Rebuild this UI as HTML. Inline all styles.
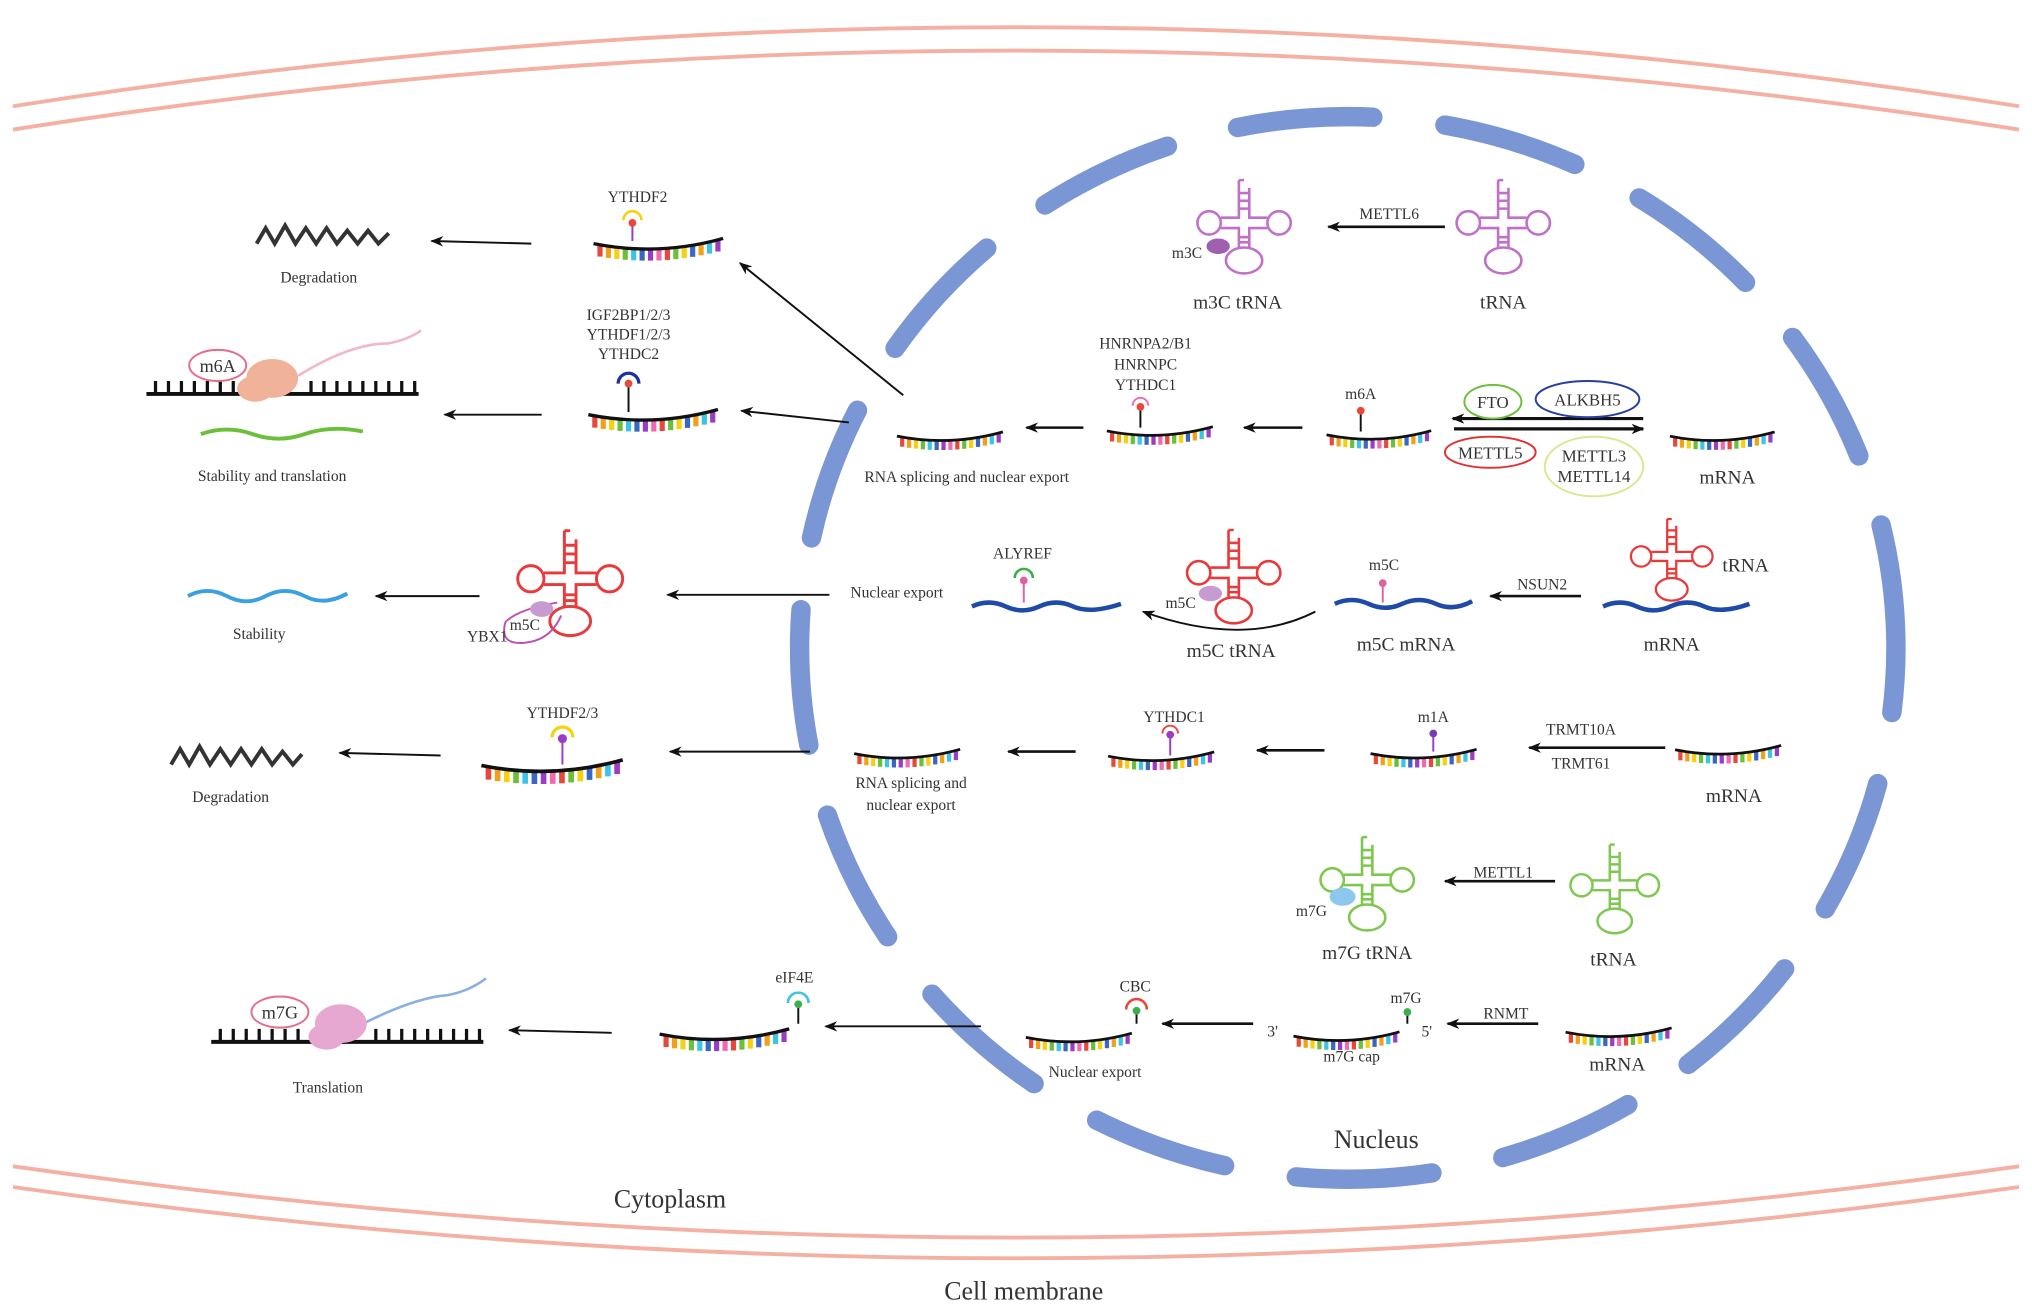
<!DOCTYPE html>
<html><head><meta charset="utf-8"><style>
html,body{margin:0;padding:0;background:#fff;}
svg{display:block;}
text{font-family:"Liberation Serif",serif;fill:#333;}
</style></head><body>
<svg width="2032" height="1314" viewBox="0 0 1568 1014" preserveAspectRatio="none" xmlns="http://www.w3.org/2000/svg">
<defs>
<marker id="ah" markerWidth="10" markerHeight="8" refX="9" refY="4" orient="auto" markerUnits="userSpaceOnUse"><path d="M0,0 L10,4 L0,8 L3,4 Z" fill="#111"/></marker>
<symbol id="s" viewBox="-2 -8 104 22" overflow="visible">
<g stroke-width="4">
<line x1="5" y1="1" x2="5" y2="10" stroke="#e8483a"/>
<line x1="11.5" y1="2" x2="11.5" y2="11" stroke="#f3a019"/>
<line x1="18" y1="2.8" x2="18" y2="11.8" stroke="#f5d10f"/>
<line x1="24.5" y1="3.5" x2="24.5" y2="12.5" stroke="#6cbf3a"/>
<line x1="31" y1="3.9" x2="31" y2="12.9" stroke="#3cc4e6"/>
<line x1="37.5" y1="4.1" x2="37.5" y2="13.1" stroke="#3a66c4"/>
<line x1="44" y1="4.1" x2="44" y2="13.1" stroke="#9a3cc4"/>
<line x1="50.5" y1="4" x2="50.5" y2="13" stroke="#f06ab0"/>
<line x1="57" y1="3.6" x2="57" y2="12.6" stroke="#e8483a"/>
<line x1="63.5" y1="3" x2="63.5" y2="12" stroke="#6cbf3a"/>
<line x1="70" y1="2.2" x2="70" y2="11.2" stroke="#f5d10f"/>
<line x1="76.5" y1="1.2" x2="76.5" y2="10.2" stroke="#3a66c4"/>
<line x1="83" y1="0" x2="83" y2="9" stroke="#f3a019"/>
<line x1="89.5" y1="-1.3" x2="89.5" y2="7.7" stroke="#3cc4e6"/>
<line x1="96" y1="-2.9" x2="96" y2="6.1" stroke="#9a3cc4"/>
</g>
<path d="M0,0 Q50,10 100,-4" fill="none" stroke="#111" stroke-width="2.6"/>
</symbol>
<symbol id="t" viewBox="-40 -40 80 80" overflow="visible">
<g fill="none" stroke-width="2">
<path d="M-4,-36 L-4,-7 L-18,-7 M4,-30 L4,-7 L18,-7 M-18,1 L-4,1 L-4,16 M18,1 L4,1 L4,16 M-4,-36 L0,-36"/>
<path d="M-4,-26 L4,-26 M-4,-20 L4,-20 M-4,-14 L4,-14 M-4,8 L4,8 M-4,12 L4,12"/>
<circle cx="-27" cy="-3" r="9"/><circle cx="27" cy="-3" r="9"/>
<ellipse cx="0" cy="26" rx="14" ry="10"/>
</g>
</symbol>
</defs>

<g fill="none" stroke="#f4b0a2" stroke-width="3">
<path d="M10,82 Q784,-40 1558,82"/><path d="M10,100 Q784,-22 1558,100"/>
<path d="M10,900 Q784,1010 1558,900"/><path d="M10,916 Q784,1026 1558,916"/>
</g>

<ellipse cx="1040" cy="500" rx="423" ry="410" fill="none" stroke="#7b96d4" stroke-width="15" stroke-linecap="round" stroke-dasharray="105 56" stroke-dashoffset="55"/>

<g font-size="12">
<text x="492" y="156" text-anchor="middle">YTHDF2</text>
<use href="#s" x="447" y="180" width="122" height="22"/>
<line x1="488" y1="172" x2="488" y2="186" stroke="#9a3cc4" stroke-width="1.5"/><circle cx="488" cy="172" r="3" fill="#e8483a"/><path d="M481,170 A7,7 0 0 1 495,170" fill="none" stroke="#f5d10f" stroke-width="2"/>
<line x1="410" y1="188" x2="333" y2="186" stroke="#111" stroke-width="1.5" marker-end="url(#ah)"/>
<path d="M198,188 L205,176 L212,188 L220,174 L228,188 L236,176 L244,188 L252,176 L260,188 L268,178 L276,188 L284,178 L292,188 L300,180" fill="none" stroke="#333" stroke-width="3"/>
<text x="246" y="218" text-anchor="middle">Degradation</text>
<line x1="697" y1="305" x2="571" y2="203" stroke="#111" stroke-width="1.5" marker-end="url(#ah)"/>

<use href="#t" x="920" y="135" width="80" height="80" stroke="#c070c8"/>
<ellipse cx="940" cy="190" rx="9" ry="6" fill="#a060b0"/>
<text x="916" y="199" text-anchor="middle">m3C</text>
<text x="955" y="238" text-anchor="middle" font-size="15">m3C tRNA</text>
<use href="#t" x="1120" y="135" width="80" height="80" stroke="#c070c8"/>
<text x="1160" y="238" text-anchor="middle" font-size="15">tRNA</text>
<line x1="1115" y1="175" x2="1025" y2="175" stroke="#111" stroke-width="2" marker-end="url(#ah)"/>
<text x="1072" y="169" text-anchor="middle">METTL6</text>

<text x="485" y="247" text-anchor="middle">IGF2BP1/2/3</text>
<text x="485" y="262" text-anchor="middle">YTHDF1/2/3</text>
<text x="485" y="277" text-anchor="middle">YTHDC2</text>
<use href="#s" x="445" y="312" width="118" height="22"/>
<line x1="485" y1="295" x2="485" y2="318" stroke="#111" stroke-width="1.5"/><circle cx="485" cy="296" r="3" fill="#e8483a"/><path d="M477,296 A8,8 0 0 1 493,296" fill="none" stroke="#2030a0" stroke-width="2.5"/>
<line x1="418" y1="320" x2="343" y2="320" stroke="#111" stroke-width="1.5" marker-end="url(#ah)"/>
<path d="M113,304 L323,304" stroke="#111" stroke-width="3"/>
<path d="M120,304 v-10 M130,304 v-10 M140,304 v-10 M150,304 v-10 M160,304 v-10 M170,304 v-10 M180,304 v-10 M240,304 v-10 M250,304 v-10 M260,304 v-10 M270,304 v-10 M280,304 v-10 M290,304 v-10 M300,304 v-10 M310,304 v-10 M320,304 v-10" stroke="#111" stroke-width="2.5"/>
<path d="M230,290 Q270,265 300,265 Q315,262 325,255" fill="none" stroke="#f2b8c6" stroke-width="2"/>
<ellipse cx="210" cy="292" rx="20" ry="15" fill="#f0b298"/><ellipse cx="197" cy="300" rx="14" ry="10" fill="#f0b298"/>
<ellipse cx="168" cy="282" rx="22" ry="12" fill="none" stroke="#e86a8a" stroke-width="1.5"/>
<text x="168" y="287" text-anchor="middle" font-size="14">m6A</text>
<path d="M155,335 Q175,328 195,335 T235,335 T280,333" fill="none" stroke="#6cbf3a" stroke-width="3"/>
<text x="210" y="371" text-anchor="middle">Stability and translation</text>
<line x1="655" y1="326" x2="572" y2="317" stroke="#111" stroke-width="1.5" marker-end="url(#ah)"/>
<use href="#s" x="690" y="330" width="86" height="18"/>
<text x="746" y="372" text-anchor="middle">RNA splicing and nuclear export</text>
<line x1="836" y1="330" x2="792" y2="330" stroke="#111" stroke-width="2" marker-end="url(#ah)"/>
<text x="884" y="269" text-anchor="middle">HNRNPA2/B1</text>
<text x="884" y="285" text-anchor="middle">HNRNPC</text>
<text x="884" y="301" text-anchor="middle">YTHDC1</text>
<use href="#s" x="852" y="326" width="86" height="18"/>
<line x1="880" y1="314" x2="880" y2="330" stroke="#111" stroke-width="1.5"/><circle cx="880" cy="314" r="3" fill="#e8483a"/><path d="M874,313 A6,6 0 0 1 886,313" fill="none" stroke="#f06ab0" stroke-width="1.5"/>
<line x1="1005" y1="330" x2="960" y2="330" stroke="#111" stroke-width="2" marker-end="url(#ah)"/>
<text x="1050" y="308" text-anchor="middle">m6A</text>
<use href="#s" x="1022" y="329" width="84" height="18"/>
<line x1="1050" y1="318" x2="1050" y2="333" stroke="#111" stroke-width="1.5"/><circle cx="1050" cy="317" r="3" fill="#e8483a"/>
<line x1="1268" y1="323" x2="1121" y2="323" stroke="#111" stroke-width="2.5" marker-end="url(#ah)"/>
<line x1="1122" y1="331" x2="1268" y2="331" stroke="#111" stroke-width="2.5" marker-end="url(#ah)"/>
<ellipse cx="1152" cy="310" rx="22" ry="13" fill="#fff" stroke="#6cbf3a" stroke-width="1.5"/>
<text x="1152" y="315" text-anchor="middle" font-size="13">FTO</text>
<ellipse cx="1225" cy="308" rx="40" ry="14" fill="none" stroke="#2a3fa0" stroke-width="1.5"/>
<text x="1225" y="313" text-anchor="middle" font-size="13">ALKBH5</text>
<ellipse cx="1150" cy="349" rx="35" ry="12" fill="none" stroke="#e03030" stroke-width="1.5"/>
<text x="1150" y="354" text-anchor="middle" font-size="13">METTL5</text>
<ellipse cx="1230" cy="360" rx="38" ry="23" fill="none" stroke="#d8e890" stroke-width="1.5"/>
<text x="1230" y="356" text-anchor="middle" font-size="13">METTL3</text>
<text x="1230" y="372" text-anchor="middle" font-size="13">METTL14</text>
<use href="#s" x="1287" y="330" width="84" height="18"/>
<text x="1333" y="373" text-anchor="middle" font-size="15">mRNA</text>

<path d="M145,460 Q160,452 175,460 T205,460 T235,460 T268,458" fill="none" stroke="#3aa0e0" stroke-width="3"/>
<text x="200" y="493" text-anchor="middle">Stability</text>
<line x1="370" y1="460" x2="290" y2="460" stroke="#111" stroke-width="1.5" marker-end="url(#ah)"/>
<use href="#t" x="395" y="405" width="90" height="90" stroke="#e83a3a"/>
<path d="M430,465 Q400,470 390,480 Q385,498 405,496 Q425,494 433,475" fill="none" stroke="#c050b0" stroke-width="1.5"/>
<ellipse cx="418" cy="470" rx="9" ry="6" fill="#c79ad0"/>
<text x="405" y="486" text-anchor="middle">m5C</text>
<text x="376" y="495" text-anchor="middle">YBX1</text>
<line x1="640" y1="459" x2="515" y2="459" stroke="#111" stroke-width="1.5" marker-end="url(#ah)"/>
<text x="692" y="461" text-anchor="middle">Nuclear export</text>
<text x="789" y="431" text-anchor="middle">ALYREF</text>
<line x1="790" y1="447" x2="790" y2="465" stroke="#e060a0" stroke-width="1.5"/><circle cx="790" cy="448" r="3" fill="#e060a0"/><path d="M783,446 A7,7 0 0 1 797,446" fill="none" stroke="#3ab04a" stroke-width="2"/>
<path d="M750,468 Q763,462 776,468 T802,468 T828,468 T865,466" fill="none" stroke="#1f4aa8" stroke-width="3.5"/>
<use href="#t" x="912" y="405" width="80" height="80" stroke="#e83a3a"/>
<ellipse cx="934" cy="458" rx="9" ry="6" fill="#c79ad0"/>
<text x="911" y="469" text-anchor="middle">m5C</text>
<path d="M1015,472 Q960,500 882,472" fill="none" stroke="#111" stroke-width="1.5" marker-end="url(#ah)"/>
<text x="950" y="507" text-anchor="middle" font-size="15">m5C tRNA</text>
<text x="1068" y="440" text-anchor="middle">m5C</text>
<line x1="1067" y1="450" x2="1067" y2="465" stroke="#e060a0" stroke-width="1.5"/><circle cx="1067" cy="450" r="3" fill="#e060a0"/>
<path d="M1030,466 Q1043,460 1056,466 T1082,466 T1108,466 T1136,464" fill="none" stroke="#1f4aa8" stroke-width="3.5"/>
<text x="1085" y="502" text-anchor="middle" font-size="15">m5C mRNA</text>
<line x1="1220" y1="460" x2="1150" y2="460" stroke="#111" stroke-width="2" marker-end="url(#ah)"/>
<text x="1190" y="455" text-anchor="middle">NSUN2</text>
<use href="#t" x="1255" y="397" width="70" height="70" stroke="#e83a3a"/>
<text x="1347" y="441" text-anchor="middle" font-size="15">tRNA</text>
<path d="M1237,468 Q1250,462 1263,468 T1289,468 T1315,468 T1350,466" fill="none" stroke="#1f4aa8" stroke-width="3.5"/>
<text x="1290" y="502" text-anchor="middle" font-size="15">mRNA</text>

<path d="M132,590 L139,578 L146,590 L154,576 L162,590 L170,578 L178,590 L186,578 L194,590 L202,578 L210,590 L218,580 L226,590 L233,582" fill="none" stroke="#333" stroke-width="3"/>
<text x="178" y="619" text-anchor="middle">Degradation</text>
<line x1="340" y1="583" x2="262" y2="581" stroke="#111" stroke-width="1.5" marker-end="url(#ah)"/>
<text x="434" y="554" text-anchor="middle">YTHDF2/3</text>
<use href="#s" x="357" y="582" width="138" height="24"/>
<line x1="434" y1="570" x2="434" y2="590" stroke="#9a3cc4" stroke-width="1.5"/><circle cx="434" cy="570" r="3.5" fill="#9a3cc4"/><path d="M426,569 A8,8 0 0 1 442,569" fill="none" stroke="#f5d10f" stroke-width="2.5"/>
<line x1="625" y1="580" x2="517" y2="580" stroke="#111" stroke-width="1.5" marker-end="url(#ah)"/>
<use href="#s" x="655" y="575" width="90" height="18"/>
<text x="703" y="608" text-anchor="middle">RNA splicing and</text>
<text x="703" y="625" text-anchor="middle">nuclear export</text>
<line x1="830" y1="580" x2="778" y2="580" stroke="#111" stroke-width="2" marker-end="url(#ah)"/>
<text x="906" y="557" text-anchor="middle">YTHDC1</text>
<use href="#s" x="850" y="577" width="92" height="18"/>
<line x1="903" y1="567" x2="903" y2="583" stroke="#9a3cc4" stroke-width="1.5"/><circle cx="903" cy="567" r="3" fill="#9a3cc4"/><path d="M897,566 A6,6 0 0 1 909,566" fill="none" stroke="#e8483a" stroke-width="1.5"/>
<line x1="1022" y1="579" x2="970" y2="579" stroke="#111" stroke-width="2" marker-end="url(#ah)"/>
<text x="1106" y="557" text-anchor="middle">m1A</text>
<use href="#s" x="1052" y="575" width="93" height="18"/>
<line x1="1106" y1="566" x2="1106" y2="580" stroke="#9a3cc4" stroke-width="1.5"/><circle cx="1106" cy="566" r="3" fill="#7a3cb0"/>
<line x1="1285" y1="577" x2="1180" y2="577" stroke="#111" stroke-width="2" marker-end="url(#ah)"/>
<text x="1220" y="567" text-anchor="middle">TRMT10A</text>
<text x="1220" y="593" text-anchor="middle">TRMT61</text>
<use href="#s" x="1287" y="572" width="93" height="18"/>
<text x="1338" y="619" text-anchor="middle" font-size="15">mRNA</text>

<use href="#t" x="1015" y="642" width="80" height="80" stroke="#7ec850"/>
<ellipse cx="1036" cy="692" rx="10" ry="7" fill="#8cc8ec"/>
<text x="1012" y="707" text-anchor="middle">m7G</text>
<text x="1055" y="740" text-anchor="middle" font-size="15">m7G tRNA</text>
<line x1="1200" y1="680" x2="1115" y2="680" stroke="#111" stroke-width="2" marker-end="url(#ah)"/>
<text x="1160" y="677" text-anchor="middle">METTL1</text>
<use href="#t" x="1208" y="648" width="76" height="76" stroke="#7ec850"/>
<text x="1245" y="745" text-anchor="middle" font-size="15">tRNA</text>

<path d="M163,804 L373,804" stroke="#111" stroke-width="3"/>
<path d="M170,804 v-10 M180,804 v-10 M190,804 v-10 M200,804 v-10 M210,804 v-10 M220,804 v-10 M230,804 v-10 M290,804 v-10 M300,804 v-10 M310,804 v-10 M320,804 v-10 M330,804 v-10 M340,804 v-10 M350,804 v-10 M360,804 v-10 M370,804 v-10" stroke="#111" stroke-width="2.5"/>
<path d="M280,790 Q320,770 345,768 Q362,765 375,755" fill="none" stroke="#8ab0e0" stroke-width="2"/>
<ellipse cx="263" cy="790" rx="20" ry="15" fill="#e6a8d0"/><ellipse cx="252" cy="800" rx="14" ry="10" fill="#e6a8d0"/>
<ellipse cx="216" cy="781" rx="22" ry="12" fill="none" stroke="#e86a8a" stroke-width="1.5"/>
<text x="216" y="786" text-anchor="middle" font-size="14">m7G</text>
<text x="253" y="843" text-anchor="middle">Translation</text>
<line x1="472" y1="797" x2="393" y2="795" stroke="#111" stroke-width="1.5" marker-end="url(#ah)"/>
<use href="#s" x="498" y="790" width="122" height="22"/>
<text x="613" y="758" text-anchor="middle">eIF4E</text>
<line x1="616" y1="775" x2="616" y2="790" stroke="#111" stroke-width="1.5"/><circle cx="616" cy="775" r="3" fill="#3ab04a"/><path d="M608,774 A8,8 0 0 1 624,774" fill="none" stroke="#3cc4e6" stroke-width="2"/>
<line x1="757" y1="792" x2="637" y2="792" stroke="#111" stroke-width="1.5" marker-end="url(#ah)"/>
<use href="#s" x="785" y="794" width="95" height="18"/>
<text x="876" y="765" text-anchor="middle">CBC</text>
<line x1="877" y1="780" x2="877" y2="790" stroke="#111" stroke-width="1.5"/><circle cx="877" cy="780" r="3" fill="#3ab04a"/><path d="M869,779 A8,8 0 0 1 885,779" fill="none" stroke="#e8483a" stroke-width="2"/>
<text x="845" y="831" text-anchor="middle">Nuclear export</text>
<line x1="967" y1="790" x2="897" y2="790" stroke="#111" stroke-width="2" marker-end="url(#ah)"/>
<use href="#s" x="990" y="793" width="98" height="18"/>
<text x="982" y="800" text-anchor="middle">3'</text>
<text x="1101" y="800" text-anchor="middle">5'</text>
<text x="1085" y="774" text-anchor="middle">m7G</text>
<line x1="1086" y1="781" x2="1086" y2="790" stroke="#111" stroke-width="1.5"/><circle cx="1086" cy="781" r="3" fill="#3ab04a"/>
<text x="1043" y="819" text-anchor="middle">m7G cap</text>
<line x1="1187" y1="790" x2="1117" y2="790" stroke="#111" stroke-width="2" marker-end="url(#ah)"/>
<text x="1162" y="786" text-anchor="middle">RNMT</text>
<use href="#s" x="1200" y="790" width="98" height="18"/>
<text x="1248" y="826" text-anchor="middle" font-size="15">mRNA</text>
</g>

<text x="1062" y="886" text-anchor="middle" font-size="20">Nucleus</text>
<text x="517" y="932" text-anchor="middle" font-size="20">Cytoplasm</text>
<text x="790" y="1003" text-anchor="middle" font-size="20">Cell membrane</text>
</svg>
</body></html>
